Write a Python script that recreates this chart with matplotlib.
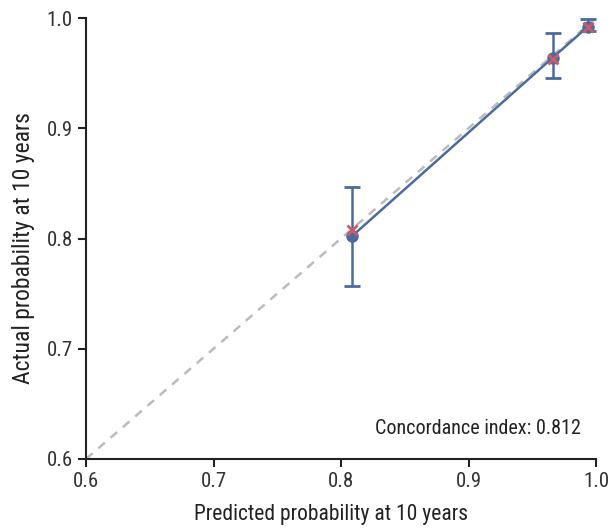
import matplotlib
matplotlib.use("Agg")
import matplotlib.pyplot as plt
from matplotlib import font_manager

fams = {f.name for f in font_manager.fontManager.ttflist}
fam = next((f for f in ["Roboto Condensed", "Archivo Narrow", "Barlow Semi Condensed", "Liberation Sans"] if f in fams), "DejaVu Sans")
plt.rcParams['font.family'] = [fam, 'DejaVu Sans']

pred = [0.8085, 0.966, 0.9935]
actual = [0.802, 0.964, 0.992]
err_low = [0.757, 0.946, 0.988]
err_high = [0.847, 0.986, 0.9995]
cross_y = [0.808, 0.963, 0.992]
xticks = [0.6, 0.7, 0.8, 0.9, 1.0]
yticks = [0.6, 0.7, 0.8, 0.9, 1.0]

blue = "#4d6a9c"
red = "#c95b6c"

fig = plt.figure(figsize=(6.14, 5.32), dpi=100)
ax = fig.add_axes([86/614, 1-459/532, (596-86)/614, (459-18)/532])

ax.plot([0.6, 1.0], [0.6, 1.0], ls=(0, (3.5, 3)), color="#bbbbbb", lw=1.8, zorder=1)
lo = [a - l for a, l in zip(actual, err_low)]
hi = [h - a for a, h in zip(actual, err_high)]
ax.errorbar(pred, actual, yerr=[lo, hi], color=blue, lw=1.8, capsize=6, capthick=2,
            marker='o', ms=8, zorder=3)
ax.plot(pred, cross_y, ls='none', marker='x', color=red, ms=6.5, mew=2, zorder=4)

ax.set_xlim(0.6, 1.0)
ax.set_ylim(0.6, 1.0)
ax.set_xticks(xticks)
ax.set_yticks(yticks)
ax.set_xticklabels([f"{v:.1f}" for v in xticks])
ax.set_yticklabels([f"{v:.1f}" for v in yticks])
for s in ['top', 'right']:
    ax.spines[s].set_visible(False)
for s in ['left', 'bottom']:
    ax.spines[s].set_linewidth(1.5)
    ax.spines[s].set_color("#222222")
ax.tick_params(labelsize=15, width=1.5, length=6, color="#222222", labelcolor="#333333")
ax.set_xlabel("Predicted probability at 10 years", fontsize=15.5, color="#222222")
ax.set_ylabel("Actual probability at 10 years", fontsize=17, color="#222222")
ax.xaxis.set_label_coords(0.48, -0.103)
ax.yaxis.set_label_coords(-0.1, 0.478)
ax.text(0.9885, 0.619, "Concordance index: 0.812", ha='right', va='bottom', fontsize=14.5, color="#222222")

fig.savefig("out.png", dpi=100)
